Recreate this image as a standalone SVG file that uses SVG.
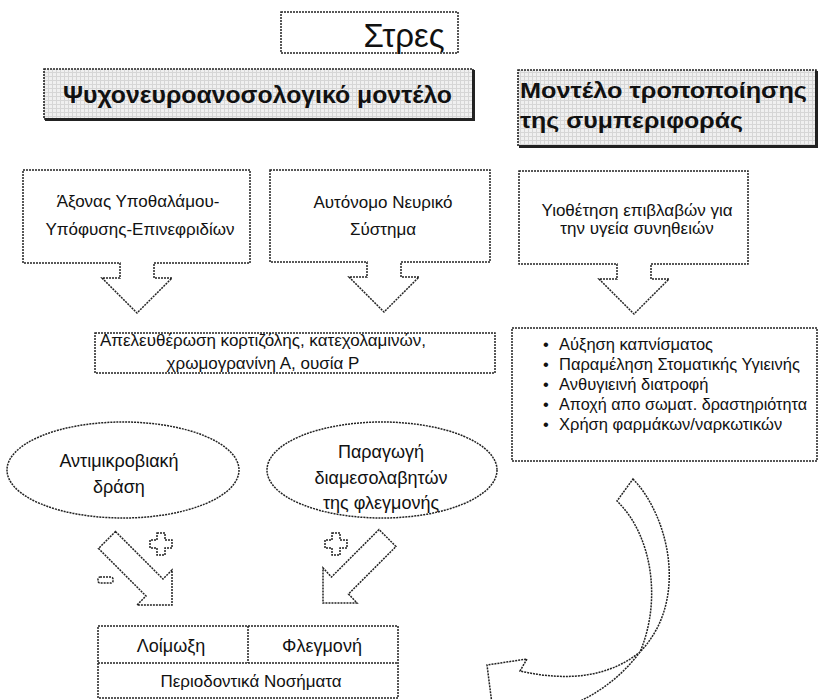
<svg xmlns="http://www.w3.org/2000/svg" width="822" height="700" viewBox="0 0 822 700">
<style>
.bx{fill:#fff;stroke:#222;stroke-width:1.5;stroke-dasharray:2 1}
.hd{fill:url(#grid);stroke:#222;stroke-width:1.6;stroke-dasharray:2 1}
.t{font-family:"Liberation Sans",Arial,sans-serif;fill:#111;text-anchor:middle}
.tl{font-family:"Liberation Sans",Arial,sans-serif;fill:#111}
.hb{font-family:"Liberation Sans",Arial,sans-serif;font-weight:bold;fill:#111}
.sh{fill:none;stroke:#222;stroke-width:3}
</style>
<defs>
<pattern id="grid" width="4" height="4" patternUnits="userSpaceOnUse">
<rect width="4" height="4" fill="#f0f0f0"/>
<path d="M0 0.5H4M0.5 0V4" stroke="#d6d6d6" stroke-width="1"/>
</pattern>
</defs>

<g id="stres">
<rect class="bx" x="281" y="12" width="177" height="41"/>
<text class="t" x="404" y="47" font-size="33">Στρες</text>
</g>

<g id="psycho-model">
<rect class="hd" x="44" y="69" width="429" height="50"/>
<path class="sh" d="M45 119.5H473.5V70"/>
<text class="hb" x="63" y="103" font-size="24" textLength="389" lengthAdjust="spacingAndGlyphs">Ψυχονευροανοσολογικό μοντέλο</text>
</g>

<g id="behavior-model">
<rect class="hd" x="518" y="70" width="298" height="76"/>
<path class="sh" d="M519 146.5H816.5V71"/>
<text class="hb" x="520" y="98" font-size="22" textLength="287" lengthAdjust="spacingAndGlyphs">Μοντέλο τροποποίησης</text>
<text class="hb" x="520" y="128" font-size="22" textLength="223" lengthAdjust="spacingAndGlyphs">της συμπεριφοράς</text>
</g>

<g id="hpa-axis">
<path class="bx" d="M23 170H250V263H154V278H172L137 313L102 278H120V263H23Z"/>
<text class="t" x="138" y="207" font-size="17">Άξονας Υποθαλάμου-</text>
<text class="t" x="140" y="235" font-size="17">Υπόφυσης-Επινεφριδίων</text>
</g>

<g id="ans">
<path class="bx" d="M270 170H490V262H401V277H419L384 312L349 277H367V262H270Z"/>
<text class="t" x="383" y="208" font-size="17">Αυτόνομο Νευρικό</text>
<text class="t" x="383" y="235" font-size="17">Σύστημα</text>
</g>

<g id="habits">
<path class="bx" d="M519 171H748V264H651V279H669L634 314L599 279H617V264H519Z"/>
<text class="t" x="637" y="216" font-size="17">Υιοθέτηση επιβλαβών για</text>
<text class="t" x="637" y="234" font-size="17">την υγεία συνηθειών</text>
</g>

<g id="release">
<rect class="bx" x="95" y="333" width="400" height="40"/>
<text class="t" x="263" y="346" font-size="17">Απελευθέρωση κορτιζόλης, κατεχολαμινών,</text>
<text class="t" x="263" y="369" font-size="17">χρωμογρανίνη Α, ουσία Ρ</text>
</g>

<g id="behaviors">
<rect class="bx" x="512" y="328" width="305" height="133"/>
<g class="tl" font-size="16.5">
<text x="543" y="350">•</text><text x="559" y="350">Αύξηση καπνίσματος</text>
<text x="543" y="370">•</text><text x="559" y="370">Παραμέληση Στοματικής Υγιεινής</text>
<text x="543" y="390">•</text><text x="559" y="390">Ανθυγιεινή διατροφή</text>
<text x="543" y="410">•</text><text x="559" y="410" textLength="248" lengthAdjust="spacingAndGlyphs">Αποχή απο σωματ. δραστηριότητα</text>
<text x="543" y="430">•</text><text x="559" y="430">Χρήση φαρμάκων/ναρκωτικών</text>
</g>
</g>

<g id="antimicrobial">
<ellipse class="bx" cx="123" cy="470" rx="116" ry="48"/>
<text class="t" x="119" y="467" font-size="18">Αντιμικροβιακή</text>
<text class="t" x="119" y="493" font-size="18">δράση</text>
</g>

<g id="mediators">
<ellipse class="bx" cx="382" cy="470" rx="115" ry="48"/>
<text class="t" x="381" y="458" font-size="18">Παραγωγή</text>
<text class="t" x="381" y="484" font-size="18">διαμεσολαβητών</text>
<text class="t" x="381" y="509" font-size="18">της φλεγμονής</text>
</g>

<g id="periodontal">
<rect class="bx" x="98" y="626" width="300" height="72"/>
<path class="bx" d="M98 663H398M248 626V663"/>
<text class="t" x="171" y="652" font-size="18">Λοίμωξη</text>
<text class="t" x="322" y="652" font-size="18">Φλεγμονή</text>
<text class="t" x="251" y="687" font-size="17">Περιοδοντικά Νοσήματα</text>
</g>

<g id="connectors">
<polygon class="bx" points="115.5,531.5 163,579 172,570 172,605 137,605 146,596 98.5,548.5"/>
<polygon class="bx" points="379,529.5 331.5,577 323,568 323,603 357,603 348.5,594 396,546.5"/>
<path class="bx" d="M157 533h8v7h7v8h-7v7h-8v-7h-7v-8h7z"/>
<path class="bx" d="M332 533h8v7h7v8h-7v7h-8v-7h-7v-8h7z"/>
<rect class="bx" x="98" y="577" width="15" height="6" rx="2"/>
<path class="bx" d="M633 479C668 515 690 600 640 652Q595 688 520 671L527 659L487 665L493 712L505 702Q555 712 578 702Q615 685 640 652C662 600 652 535 617 501Z"/>
</g>
</svg>
